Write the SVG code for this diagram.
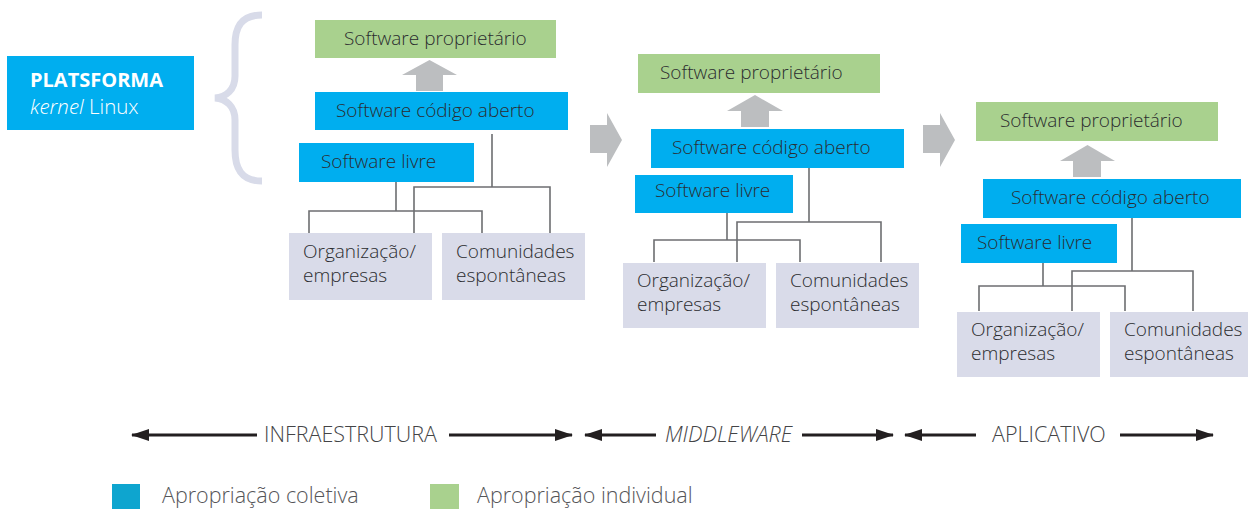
<svg xmlns="http://www.w3.org/2000/svg" width="1248" height="509" viewBox="0 0 1248 509">
<style>
text{font-family:"Open Sans","Noto Sans","Liberation Sans",sans-serif;font-weight:300;}
.blue{fill:#00aeef;}
.green{fill:#a9d18e;}
.lav{fill:#d9dbe9;}
.t{font-size:19px;fill:#2b2c2f;}
.lbl{font-size:21.5px;fill:#444446;}
.leg{font-size:21.5px;fill:#555558;}
.conn{stroke:#6d6e71;stroke-width:1.6;fill:none;}
.garrow{fill:#bcbec0;}
.axis{stroke:#231f20;stroke-width:3;}
</style>
<defs>
<marker id="ah" viewBox="0 0 18 12" refX="17" refY="6" markerWidth="18" markerHeight="12" markerUnits="userSpaceOnUse" orient="auto"><path d="M0,0 L18,6 L0,12 Z" fill="#231f20"/></marker>
</defs>

<g id="plataforma">
<rect x="7" y="56" width="187" height="74" class="blue"/>
<text x="30" y="87" style="font-size:20px;font-weight:700;fill:#fff">PLATSFORMA</text>
<text x="30" y="114" style="font-size:20.5px;fill:#fff"><tspan font-style="italic">kernel</tspan> Linux</text>
</g>
<g id="chave">
<path d="M262,15 C241,15 235,27 235,45 L235,76 C235,90 226,97 215,98 C226,99 235,106 235,120 L235,150 C235,168 241,181 262,181" fill="none" stroke="#d8dbe9" stroke-width="7"/>
</g>

<!-- Panel 1 -->
<g id="p1-proprietario"><rect x="315" y="20" width="241" height="38" class="green"/><text x="344" y="45" class="t">Software proprietário</text></g>
<g id="p1-aberto"><rect x="315" y="92" width="253" height="38" class="blue"/><text x="336" y="117" class="t">Software código aberto</text></g>
<g id="p1-livre"><rect x="299" y="143" width="175" height="39" class="blue"/><text x="321" y="168" class="t">Software livre</text></g>
<g id="p1-org"><rect x="289" y="233" width="143" height="67" class="lav"/><text x="303" y="258" class="t">Organização/</text><text x="303" y="282" class="t">empresas</text></g>
<g id="p1-com"><rect x="442" y="233" width="143" height="67" class="lav"/><text x="456" y="258" class="t">Comunidades</text><text x="456" y="282" class="t">espontâneas</text></g>

<!-- Panel 2 -->
<g id="p2-proprietario"><rect x="638" y="54" width="242" height="39" class="green"/><text x="660" y="79" class="t">Software proprietário</text></g>
<g id="p2-aberto"><rect x="651" y="129" width="253" height="39" class="blue"/><text x="672" y="154" class="t">Software código aberto</text></g>
<g id="p2-livre"><rect x="635" y="175" width="158" height="38" class="blue"/><text x="655" y="197" class="t">Software livre</text></g>
<g id="p2-org"><rect x="623" y="263" width="143" height="65" class="lav"/><text x="637" y="287" class="t">Organização/</text><text x="637" y="311" class="t">empresas</text></g>
<g id="p2-com"><rect x="776" y="263" width="143" height="65" class="lav"/><text x="790" y="287" class="t">Comunidades</text><text x="790" y="311" class="t">espontâneas</text></g>

<!-- Panel 3 -->
<g id="p3-proprietario"><rect x="976" y="102" width="242" height="39" class="green"/><text x="1000" y="127" class="t">Software proprietário</text></g>
<g id="p3-aberto"><rect x="983" y="179" width="258" height="39" class="blue"/><text x="1011" y="204" class="t">Software código aberto</text></g>
<g id="p3-livre"><rect x="961" y="224" width="156" height="39" class="blue"/><text x="977" y="249" class="t">Software livre</text></g>
<g id="p3-org"><rect x="957" y="312" width="143" height="65" class="lav"/><text x="971" y="336" class="t">Organização/</text><text x="971" y="360" class="t">empresas</text></g>
<g id="p3-com"><rect x="1110" y="312" width="143" height="65" class="lav"/><text x="1124" y="336" class="t">Comunidades</text><text x="1124" y="360" class="t">espontâneas</text></g>

<g id="connectors">
<path class="garrow" d="M402,75 L429.5,60 L457,75 L443,75 L443,91 L416,91 L416,75 Z"/>
<path class="garrow" d="M727,111 L755,95 L783,111 L769,111 L769,127 L741,127 L741,111 Z"/>
<path class="garrow" d="M1060,161 L1087.5,145 L1115,161 L1101,161 L1101,177 L1073,177 L1073,161 Z"/>
<path class="garrow" d="M590,125 L607,125 L607,113 L622,140 L607,167 L607,153 L590,153 Z"/>
<path class="garrow" d="M923,125 L940,125 L940,113 L955,140 L940,167 L940,153 L923,153 Z"/>
<path class="conn" d="M396,182 V211 M309,233 V211 H482 V233"/>
<path class="conn" d="M492,134 V187 M414,233 V187 H550 V233"/>
<path class="conn" d="M727,213 V240 M654,262 V240 H800 V262"/>
<path class="conn" d="M809,168 V222 M737,262 V222 H881 V262"/>
<path class="conn" d="M1043,263 V286 M979,311 V286 H1125 V311"/>
<path class="conn" d="M1132,218 V271 M1072,311 V271 H1193 V311"/>
<line class="axis" x1="257" y1="435" x2="132" y2="435" marker-end="url(#ah)"/>
<line class="axis" x1="449" y1="435" x2="572" y2="435" marker-end="url(#ah)"/>
<line class="axis" x1="656" y1="435" x2="585" y2="435" marker-end="url(#ah)"/>
<line class="axis" x1="802" y1="435" x2="893" y2="435" marker-end="url(#ah)"/>
<line class="axis" x1="976" y1="435" x2="905" y2="435" marker-end="url(#ah)"/>
<line class="axis" x1="1120" y1="435" x2="1213" y2="435" marker-end="url(#ah)"/>
</g>

<g id="eixos">
<text x="264" y="442" class="lbl">INFRAESTRUTURA</text>
<text x="665" y="442" class="lbl" font-style="italic">MIDDLEWARE</text>
<text x="992" y="442" class="lbl">APLICATIVO</text>
</g>

<g id="legenda">
<rect x="112" y="484" width="28" height="25" fill="#0ea5cf"/>
<text x="162" y="503" class="leg">Apropriação coletiva</text>
<rect x="430" y="484" width="29" height="25" fill="#a9d18e"/>
<text x="477" y="503" class="leg">Apropriação individual</text>
</g>
</svg>
